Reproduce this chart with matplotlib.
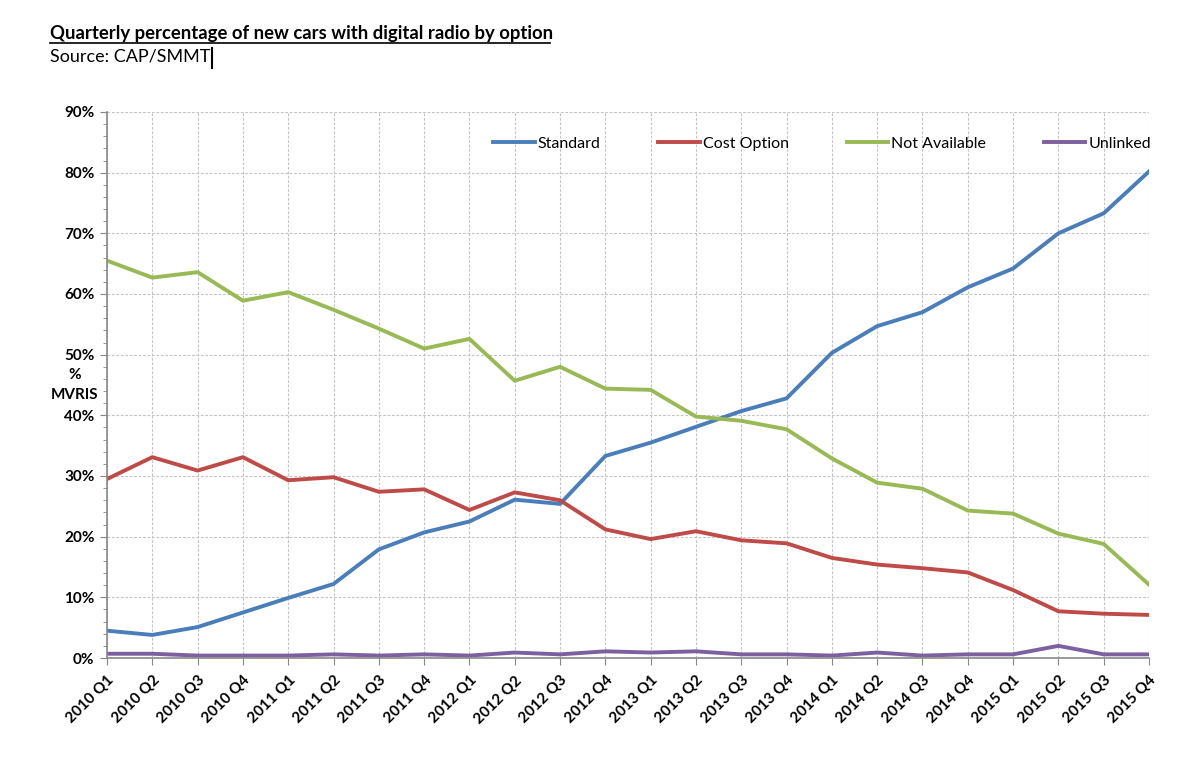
import matplotlib

matplotlib.use("Agg")
import matplotlib.pyplot as plt
import matplotlib.ticker as mtick
from matplotlib.lines import Line2D

plt.rcParams["font.family"] = ["Lato", "DejaVu Sans"]

# --- data ---
quarters = [
    "2010 Q1", "2010 Q2", "2010 Q3", "2010 Q4",
    "2011 Q1", "2011 Q2", "2011 Q3", "2011 Q4",
    "2012 Q1", "2012 Q2", "2012 Q3", "2012 Q4",
    "2013 Q1", "2013 Q2", "2013 Q3", "2013 Q4",
    "2014 Q1", "2014 Q2", "2014 Q3", "2014 Q4",
    "2015 Q1", "2015 Q2", "2015 Q3", "2015 Q4",
]
standard = [4.5, 3.8, 5.1, 7.5, 9.9, 12.2, 17.9, 20.7, 22.5, 26.1, 25.4, 33.3,
            35.5, 38.1, 40.7, 42.8, 50.3, 54.7, 57.0, 61.1, 64.2, 70.0, 73.3, 80.2]
cost_option = [29.5, 33.1, 30.9, 33.1, 29.3, 29.8, 27.4, 27.8, 24.4, 27.3, 26.0, 21.2,
               19.6, 20.9, 19.4, 18.9, 16.5, 15.4, 14.8, 14.1, 11.2, 7.7, 7.3, 7.1]
not_available = [65.5, 62.7, 63.6, 58.9, 60.3, 57.4, 54.3, 51.0, 52.6, 45.7, 48.0, 44.4,
                 44.2, 39.8, 39.1, 37.7, 32.9, 28.9, 27.9, 24.3, 23.8, 20.5, 18.8, 12.1]
unlinked = [0.7, 0.7, 0.4, 0.4, 0.4, 0.6, 0.4, 0.6, 0.4, 0.9, 0.6, 1.1,
            0.9, 1.1, 0.6, 0.6, 0.4, 0.9, 0.4, 0.6, 0.6, 2.0, 0.6, 0.6]

series = [
    ("Standard", standard, "#4a7ebb"),
    ("Cost Option", cost_option, "#be4b48"),
    ("Not Available", not_available, "#98b954"),
    ("Unlinked", unlinked, "#7d60a0"),
]

W, H = 1200, 771
fig = plt.figure(figsize=(12, 7.71), dpi=100)
ax = fig.add_axes([107 / W, 1 - 658 / H, (1149 - 107) / W, (658 - 112) / H])

x = list(range(len(quarters)))
for name, vals, col in series:
    ax.plot(x, vals, color=col, lw=2.8, label=name, solid_joinstyle="round")

ax.set_xlim(0, len(quarters) - 1)
ax.set_ylim(0, 90)
ax.yaxis.set_major_locator(mtick.MultipleLocator(10))
ax.yaxis.set_minor_locator(mtick.MultipleLocator(2))
ax.yaxis.set_major_formatter(mtick.FuncFormatter(lambda v, p: f"{v:.0f}%"))
ax.set_xticks(x)
ax.set_xticklabels(quarters, rotation=45, ha="right", rotation_mode="anchor",
                   fontsize=11, fontweight="bold")
for lab in ax.get_yticklabels():
    lab.set_fontweight("bold")
    lab.set_fontsize(11)

ax.grid(True, which="major", color="#c4c4c4", ls=(0, (2.5, 1.5)), lw=0.8)
for s in ("top", "right"):
    ax.spines[s].set_visible(False)
for s in ("left", "bottom"):
    ax.spines[s].set_color("#888888")
    ax.spines[s].set_linewidth(1.2)
ax.tick_params(axis="both", which="major", length=5, color="#888888", pad=4)
ax.tick_params(axis="y", which="minor", length=3, color="#888888")
ax.tick_params(axis="x", which="major", pad=6)

leg = ax.legend(loc="upper right", bbox_to_anchor=(1.008, 1 - 18 / 546), ncol=4,
                frameon=False, fontsize=11.5, handlelength=2.6, handletextpad=0.2,
                columnspacing=3.6, borderaxespad=0)

fig.text(75 / W, 1 - 385 / H, "%\nMVRIS", ha="center", va="center",
         fontsize=11, fontweight="bold", linespacing=1.6)

fig.text(50 / W, 1 - 33 / H, "Quarterly percentage of new cars with digital radio by option",
         ha="left", va="center", fontsize=13.3, fontweight="bold")
fig.add_artist(Line2D([50 / W, 550 / W], [1 - 43 / H, 1 - 43 / H], color="black", lw=1.2))
fig.text(50 / W, 1 - 57 / H, "Source: CAP/SMMT", ha="left", va="center", fontsize=13)
fig.add_artist(Line2D([212 / W, 212 / W], [1 - 48 / H, 1 - 68 / H], color="black", lw=1.5))

fig.savefig("out.png", dpi=100)
